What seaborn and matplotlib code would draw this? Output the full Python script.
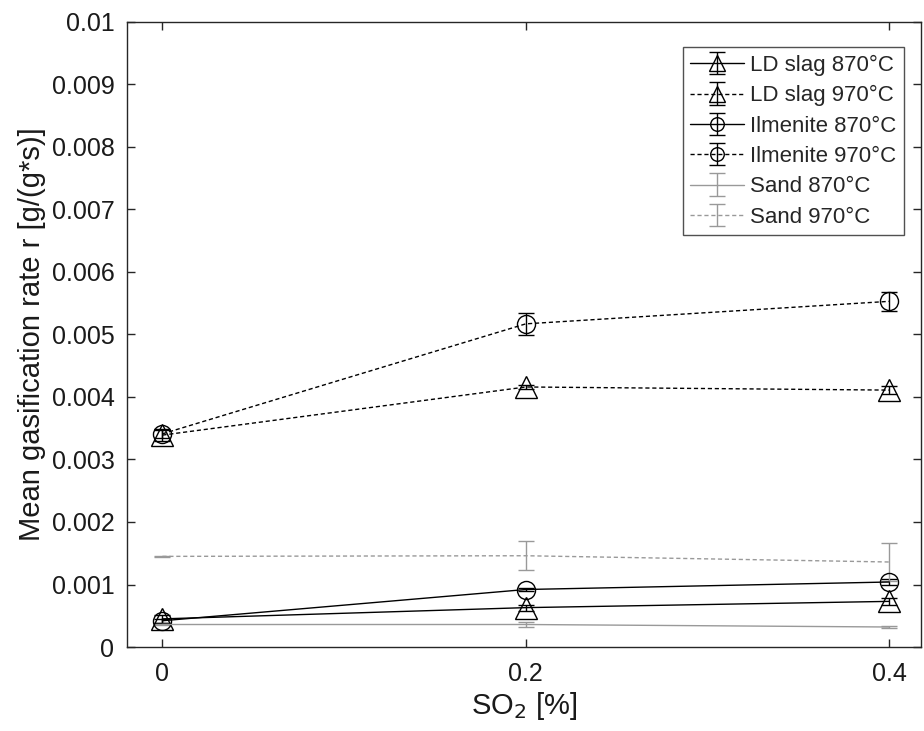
import matplotlib
matplotlib.use("Agg")
import matplotlib.pyplot as plt
import seaborn as sns

so2 = [0.0, 0.2, 0.4]

ld_870 = [0.00045, 0.00063, 0.00073]
ld_870_err = [0.00006, 0.00005, 0.00006]
ld_970 = [0.00339, 0.00416, 0.00411]
ld_970_err = [0.00010, 0.00003, 0.00007]
ilm_870 = [0.00042, 0.00092, 0.00104]
ilm_870_err = [0.00003, 0.00003, 0.00005]
ilm_970 = [0.00341, 0.00517, 0.00553]
ilm_970_err = [0.00006, 0.00018, 0.00015]
sand_870 = [0.00036, 0.00036, 0.00032]
sand_870_err = [0.00001, 0.00004, 0.00001]
sand_970 = [0.00145, 0.00146, 0.00136]
sand_970_err = [0.00001, 0.00023, 0.00030]

sns.set_theme(style="white")
plt.rcParams["font.family"] = ["Liberation Sans", "DejaVu Sans"]

fig = plt.figure(figsize=(9.24, 7.31), dpi=100)
ax = fig.add_axes([0.1374, 0.1149, 0.8594, 0.8551])

dash = (0, (3, 2))
grey = "#999999"
series = [
    ("LD slag 870°C", ld_870, ld_870_err, "^", "-", "black"),
    ("LD slag 970°C", ld_970, ld_970_err, "^", dash, "black"),
    ("Ilmenite 870°C", ilm_870, ilm_870_err, "o", "-", "black"),
    ("Ilmenite 970°C", ilm_970, ilm_970_err, "o", dash, "black"),
    ("Sand 870°C", sand_870, sand_870_err, "", "-", grey),
    ("Sand 970°C", sand_970, sand_970_err, "", dash, grey),
]

for label, y, err, marker, ls, color in series:
    ax.errorbar(so2, y, yerr=err, label=label, color=color, ls=ls, lw=1.0,
                marker=marker if marker else None, ms=16 if marker == "^" else 13,
                mfc="none", mec=color, mew=1.0,
                capsize=6, capthick=1.0, elinewidth=1.0)

ax.set_xlim(-0.0195, 0.4175)
ax.set_ylim(0, 0.01)
ax.set_xticks(so2)
ax.set_xticklabels(["0", "0.2", "0.4"])
ax.set_yticks([i * 0.001 for i in range(11)])
ax.set_yticklabels(["0"] + [f"{i * 0.001:.3f}" for i in range(1, 10)] + ["0.01"])
ax.tick_params(direction="in", length=6, width=1, colors="#262626",
               labelsize=18, top=True, right=True, bottom=True, left=True)
ax.tick_params(axis="x", pad=11)
ax.tick_params(axis="y", pad=9)
ax.tick_params(axis="both", labelcolor="#1a1a1a")
for sp in ax.spines.values():
    sp.set_color("#262626")
    sp.set_linewidth(1.0)

ax.set_xlabel("SO$_2$ [%]", fontsize=21, labelpad=3, color="#1a1a1a")
ax.set_ylabel("Mean gasification rate r [g/(g*s)]", fontsize=21, labelpad=4,
              color="#1a1a1a")

leg = ax.legend(loc="upper right", bbox_to_anchor=(0.979, 0.96), fontsize=16,
                frameon=True, fancybox=False, edgecolor="#262626",
                handlelength=2.4, handletextpad=0.3, markerscale=0.75,
                labelspacing=0.42, borderpad=0.35, borderaxespad=0.0)
leg.get_frame().set_linewidth(1.0)

fig.savefig("out.png", dpi=100)
